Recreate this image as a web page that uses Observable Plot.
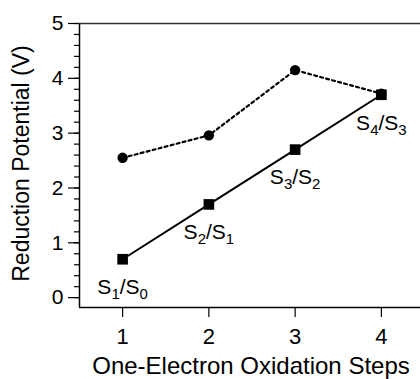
<!DOCTYPE html>
<html>
<head>
<meta charset="utf-8">
<script src="https://cdn.jsdelivr.net/npm/d3@7"></script>
<script src="https://cdn.jsdelivr.net/npm/@observablehq/plot@0.6"></script>
<style>
  html, body { margin: 0; padding: 0; background: #fff; overflow: hidden; }
  #chart { width: 420px; height: 379px; }
</style>
</head>
<body>
<div id="chart"></div>
<script>
// ---- data ----
const steps = [1, 2, 3, 4];
const potentialsDotted = [2.55, 2.96, 4.15, 3.72];   // circles, dotted line
const potentialsSolid  = [0.70, 1.70, 2.70, 3.70];   // squares, solid line
const transitions = ["S1/S0", "S2/S1", "S3/S2", "S4/S3"];
const xTicks = [1, 2, 3, 4];
const yTicks = [0, 1, 2, 3, 4, 5];
const xLabel = "One-Electron Oxidation Steps";
const yLabel = "Reduction Potential (V)";

const dotted = steps.map((s, i) => ({step: s, v: potentialsDotted[i]}));
const solid = steps.map((s, i) => ({step: s, v: potentialsSolid[i], label: transitions[i]}));
const yMinor = d3.range(0, 5.001, 0.2).map(d => +d.toFixed(1));

const font = "Liberation Sans, Arial, Helvetica, sans-serif";
const yMin = -0.18, yMax = 5;

const chart = Plot.plot({
  width: 420,
  height: 379,
  marginTop: 23,
  marginBottom: 72,
  marginLeft: 79,
  marginRight: 0,
  style: {fontFamily: font, background: "#fff", color: "#000", overflow: "hidden"},
  x: {domain: [0.5, 4.5], range: [79, 424]},
  y: {domain: [yMin, yMax]},
  marks: [
    // frame lines
    Plot.ruleX([0.5], {y1: yMin, y2: yMax, stroke: "#000", strokeWidth: 1.5}),
    Plot.ruleY([yMax], {stroke: "#333", strokeWidth: 1.5}),
    Plot.ruleY([yMin], {stroke: "#000", strokeWidth: 1.5}),
    // axes
    Plot.axisY(yMinor, {tickSize: 5, text: null, strokeWidth: 1.2, label: null}),
    Plot.axisY(yTicks, {tickSize: 11, tickPadding: 5, tickFormat: "d", fontSize: 21, strokeWidth: 1.2, label: null}),
    Plot.axisX(xTicks, {tickSize: 10, tickPadding: 11, tickFormat: "d", fontSize: 22, strokeWidth: 1.2, label: null}),
    Plot.text([xLabel], {frameAnchor: "bottom", dy: 66, dx: 1, fontSize: 24}),
    Plot.text([yLabel], {frameAnchor: "left", textAnchor: "middle", dx: -58, dy: -2, rotate: -90, fontSize: 23}),
    // series
    Plot.line(dotted, {x: "step", y: "v", stroke: "#000", strokeWidth: 2.2, strokeDasharray: "3,3.2"}),
    Plot.line(solid, {x: "step", y: "v", stroke: "#000", strokeWidth: 2}),
    Plot.dot(dotted, {x: "step", y: "v", r: 5.2, fill: "#000", stroke: null}),
    Plot.dot(solid, {x: "step", y: "v", symbol: "square", r: 6, fill: "#000", stroke: null}),
    Plot.text(solid, {x: "step", y: "v", text: "label", dy: 28, fontSize: 21, className: "trans-label"})
  ]
});
document.getElementById("chart").append(chart);

// render subscripts as tspans
d3.select(chart).selectAll(".trans-label text").each(function() {
  const t = d3.select(this);
  const s = t.text();
  const m = s.match(/^S(\d)\/S(\d)$/);
  if (!m) return;
  t.text(null);
  t.append("tspan").text("S");
  t.append("tspan").attr("font-size", 15).attr("dy", 5).text(m[1]);
  t.append("tspan").attr("dy", -5).text("/S");
  t.append("tspan").attr("font-size", 15).attr("dy", 5).text(m[2]);
});
</script>
</body>
</html>
